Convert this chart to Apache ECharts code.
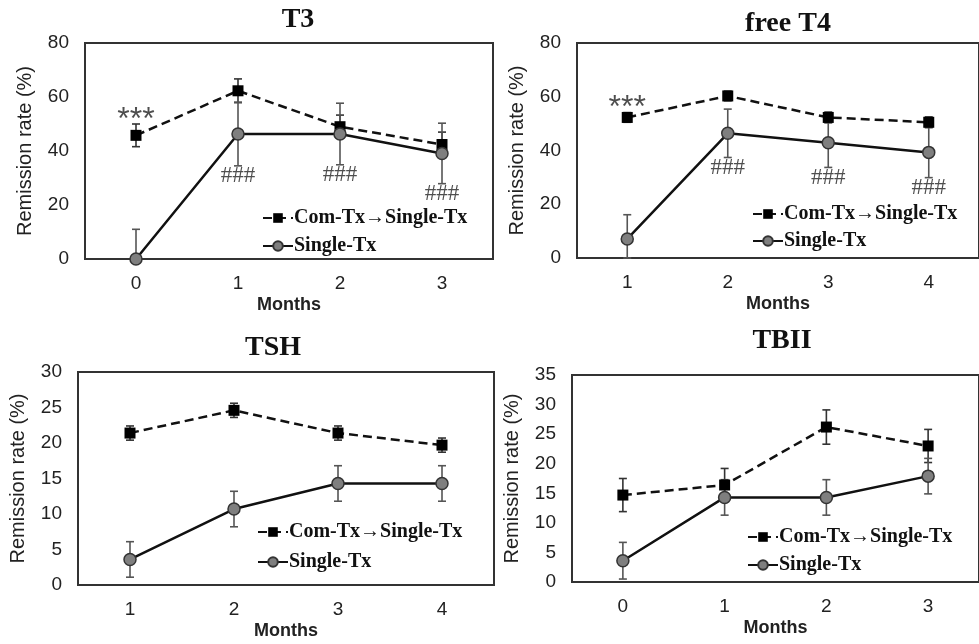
<!DOCTYPE html>
<html>
<head>
<meta charset="utf-8">
<script src="https://cdn.jsdelivr.net/npm/echarts@6/dist/echarts.min.js"></script>
<style>
  html, body { margin: 0; padding: 0; background: #fff; }
  #chart { width: 979px; height: 644px; }
</style>
</head>
<body>
<div id="chart"></div>
<script>
const COM = "Com-Tx→Single-Tx";
const SINGLE = "Single-Tx";

// T3
const t3Months = ["0", "1", "2", "3"];
const t3Com = [45.8, 62.3, 49.0, 42.4];
const t3ComErr = [4.2, 4.4, 4.3, 4.6];
const t3Single = [0, 46.3, 46.3, 39.1];
const t3SingleErr = [11.0, 11.8, 11.4, 11.2];
const t3Stars = ["***", "", "", ""];
const t3Hash = ["", "###", "###", "###"];

// free T4
const t4Months = ["1", "2", "3", "4"];
const t4Com = [52.3, 60.3, 52.3, 50.5];
const t4ComErr = [1.8, 1.8, 2.0, 2.0];
const t4Single = [7.1, 46.4, 42.9, 39.3];
const t4SingleErr = [9.0, 9.0, 9.2, 9.4];
const t4Stars = ["***", "", "", ""];
const t4Hash = ["", "###", "###", "###"];

// TSH
const tshMonths = ["1", "2", "3", "4"];
const tshCom = [21.4, 24.6, 21.4, 19.7];
const tshComErr = [1.0, 1.0, 1.0, 1.0];
const tshSingle = [3.6, 10.7, 14.3, 14.3];
const tshSingleErr = [2.5, 2.5, 2.5, 2.5];

// TBII
const tbiiMonths = ["0", "1", "2", "3"];
const tbiiCom = [14.7, 16.4, 26.2, 23.0];
const tbiiComErr = [2.8, 2.8, 2.9, 2.8];
const tbiiSingle = [3.6, 14.3, 14.3, 17.9];
const tbiiSingleErr = [3.1, 3.0, 3.0, 3.0];

const panels = [
  {
    title: "T3", months: t3Months, com: t3Com, comErr: t3ComErr,
    single: t3Single, singleErr: t3SingleErr, stars: t3Stars, hash: t3Hash,
    max: 80, interval: 20,
    grid: { left: 85, top: 43, width: 408, height: 216 },
    titlePos: [298, 6], legendPos: [262, 208], legendGap: 8,
  },
  {
    title: "free T4", months: t4Months, com: t4Com, comErr: t4ComErr,
    single: t4Single, singleErr: t4SingleErr, stars: t4Stars, hash: t4Hash,
    max: 80, interval: 20,
    grid: { left: 577, top: 43, width: 404, height: 215 },
    titlePos: [788, 10], legendPos: [752, 204], legendGap: 7,
  },
  {
    title: "TSH", months: tshMonths, com: tshCom, comErr: tshComErr,
    single: tshSingle, singleErr: tshSingleErr, stars: null, hash: null,
    max: 30, interval: 5,
    grid: { left: 78, top: 372, width: 416, height: 213 },
    titlePos: [273, 334], legendPos: [257, 522], legendGap: 10,
  },
  {
    title: "TBII", months: tbiiMonths, com: tbiiCom, comErr: tbiiComErr,
    single: tbiiSingle, singleErr: tbiiSingleErr, stars: null, hash: null,
    max: 35, interval: 5,
    grid: { left: 572, top: 375, width: 414, height: 207 },
    titlePos: [782, 327], legendPos: [747, 527], legendGap: 8,
  },
];

function errorBar(color) {
  return function (params, api) {
    const lo = api.coord([api.value(0), api.value(1)]);
    const hi = api.coord([api.value(0), api.value(2)]);
    const half = 4;
    const style = { stroke: color, lineWidth: 1.6 };
    return {
      type: "group",
      children: [
        { type: "line", shape: { x1: lo[0], y1: lo[1], x2: hi[0], y2: hi[1] }, style },
        { type: "line", shape: { x1: hi[0] - half, y1: hi[1], x2: hi[0] + half, y2: hi[1] }, style },
        { type: "line", shape: { x1: lo[0] - half, y1: lo[1], x2: lo[0] + half, y2: lo[1] }, style },
      ],
    };
  };
}

const titles = [];
const grids = [];
const xAxes = [];
const yAxes = [];
const legends = [];
const series = [];

panels.forEach((p, i) => {
  titles.push({
    text: p.title,
    left: p.titlePos[0],
    top: p.titlePos[1],
    textAlign: "center",
    padding: 0,
    textStyle: {
      fontFamily: "Liberation Serif",
      fontWeight: "bold",
      fontSize: 28,
      color: "#111",
    },
  });

  grids.push({
    ...p.grid,
    show: true,
    borderColor: "#333",
    borderWidth: 2,
    backgroundColor: "transparent",
  });

  xAxes.push({
    type: "category",
    gridIndex: i,
    data: p.months,
    boundaryGap: true,
    axisLine: { show: false },
    axisTick: { show: false },
    axisLabel: {
      margin: 15,
      fontFamily: "Liberation Sans",
      fontSize: 19,
      color: "#222",
    },
    name: "Months",
    nameLocation: "middle",
    nameGap: 37,
    nameTextStyle: {
      fontFamily: "Liberation Sans",
      fontWeight: "bold",
      fontSize: 18,
      color: "#222",
    },
  });

  yAxes.push({
    type: "value",
    gridIndex: i,
    min: 0,
    max: p.max,
    interval: p.interval,
    splitLine: { show: false },
    axisLine: { show: false },
    axisTick: { show: false },
    axisLabel: {
      margin: 16,
      fontFamily: "Liberation Sans",
      fontSize: 19,
      color: "#222",
    },
    name: "Remission rate (%)",
    nameLocation: "middle",
    nameGap: 50,
    nameTextStyle: {
      fontFamily: "Liberation Sans",
      fontSize: 20,
      color: "#222",
    },
  });

  legends.push({
    left: p.legendPos[0],
    top: p.legendPos[1],
    orient: "vertical",
    itemGap: p.legendGap,
    itemWidth: 30,
    itemHeight: 12,
    padding: 0,
    data: [COM, SINGLE],
    textStyle: {
      fontFamily: "Liberation Serif",
      fontWeight: "bold",
      fontSize: 20,
      color: "#111",
      padding: [0, 0, 0, -4],
    },
  });

  series.push({
    type: "custom",
    name: "comErr",
    xAxisIndex: i,
    yAxisIndex: i,
    renderItem: errorBar("#333"),
    encode: { x: 0, y: [1, 2] },
    data: p.com.map((v, k) => [k, v - p.comErr[k], v + p.comErr[k]]),
    z: 2,
    silent: true,
  });
  series.push({
    type: "custom",
    name: "singleErr",
    xAxisIndex: i,
    yAxisIndex: i,
    renderItem: errorBar("#555"),
    encode: { x: 0, y: [1, 2] },
    data: p.single.map((v, k) => [k, Math.max(0, v - p.singleErr[k]), v + p.singleErr[k]]),
    z: 2,
    silent: true,
  });

  series.push({
    type: "line",
    name: COM,
    xAxisIndex: i,
    yAxisIndex: i,
    data: p.com,
    symbol: "rect",
    symbolSize: 11,
    itemStyle: { color: "#000" },
    lineStyle: { color: "#111", width: 2.5, type: [9, 5] },
    z: 3,
  });
  series.push({
    type: "line",
    name: SINGLE,
    xAxisIndex: i,
    yAxisIndex: i,
    data: p.single,
    symbol: "circle",
    symbolSize: 12,
    itemStyle: { color: "#7f7f7f", borderColor: "#333", borderWidth: 1.5 },
    lineStyle: { color: "#111", width: 2.5 },
    z: 3,
  });

  if (p.stars) {
    series.push({
      type: "scatter",
      xAxisIndex: i,
      yAxisIndex: i,
      symbolSize: 0,
      data: p.com
        .map((v, k) => [k, v + p.comErr[k], p.stars[k]])
        .filter((d) => d[2]),
      label: {
        show: true,
        position: "top",
        distance: -12,
        formatter: (d) => d.data[2],
        fontFamily: "Liberation Sans",
        fontSize: 32,
        color: "#222",
      },
      silent: true,
      z: 4,
    });
  }
  if (p.hash) {
    series.push({
      type: "scatter",
      xAxisIndex: i,
      yAxisIndex: i,
      symbolSize: 0,
      data: p.single
        .map((v, k) => [k, v - p.singleErr[k], p.hash[k]])
        .filter((d) => d[2]),
      label: {
        show: true,
        position: "bottom",
        distance: -1,
        formatter: (d) => d.data[2],
        fontFamily: "Liberation Serif",
        fontSize: 23,
        color: "#222",
      },
      silent: true,
      z: 4,
    });
  }
});

const chart = echarts.init(document.getElementById("chart"));
chart.setOption({
  animation: false,
  backgroundColor: "#fff",
  title: titles,
  grid: grids,
  xAxis: xAxes,
  yAxis: yAxes,
  legend: legends,
  series: series,
});
</script>
</body>
</html>
